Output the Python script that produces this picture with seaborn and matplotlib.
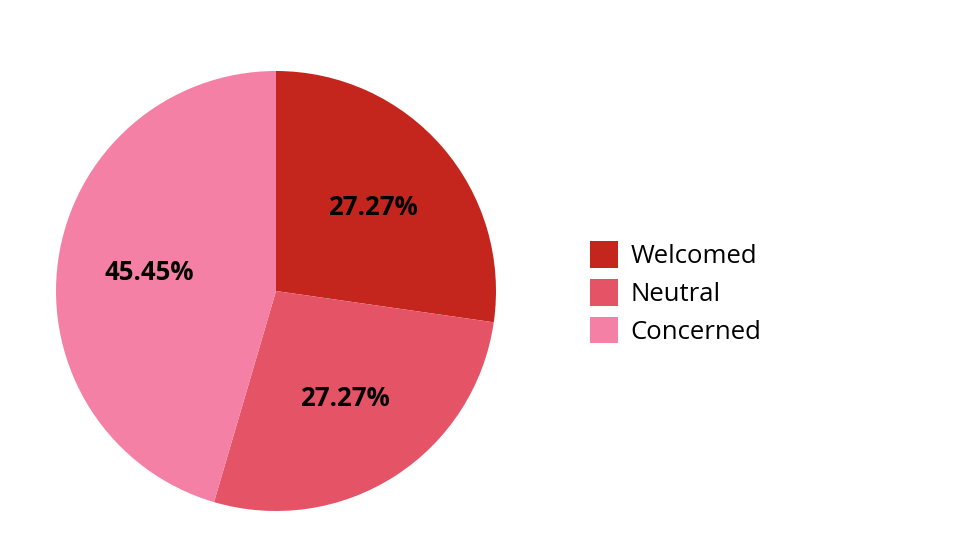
import matplotlib
matplotlib.use("Agg")
import seaborn as sns
import matplotlib.pyplot as plt
from matplotlib import font_manager as fm
from matplotlib.patches import Patch

# datos del gráfico
categorias = ["Welcomed", "Neutral", "Concerned"]
porcentajes = [27.27, 27.27, 45.45]
colores = ["#C4261D", "#E45366", "#F480A6"]

sns.set_style("white")
plt.rcParams['font.family'] = ['Open Sans', 'DejaVu Sans']

# buscamos el archivo de Open Sans Bold (no el condensado)
ruta_bold = [f.fname for f in fm.fontManager.ttflist if f.fname.endswith('OpenSans-Bold.ttf')]
fuente_bold = fm.FontProperties(fname=ruta_bold[0], size=18.5) if ruta_bold else fm.FontProperties(family='Open Sans', weight='bold', size=18.5)

fig = plt.figure(figsize=(9.8, 5.51), dpi=100)
ax = fig.add_axes([56 / 980, 40 / 551, 440 / 980, 440 / 551])

wedges, textos, autotextos = ax.pie(
    porcentajes,
    colors=sns.color_palette(colores),
    startangle=90,
    counterclock=False,
    autopct='%1.2f%%',
    pctdistance=0.58,
    radius=1,
    wedgeprops={'linewidth': 0},
)
for t in autotextos:
    t.set_fontproperties(fuente_bold)
    t.set_color('black')
ax.set_xlim(-1, 1)
ax.set_ylim(-1, 1)
ax.set_aspect('equal')
ax.axis('off')

# leyenda a la derecha
handles = [Patch(facecolor=c, edgecolor='none') for c in colores]
leg = fig.legend(
    handles, categorias,
    loc='center left',
    bbox_to_anchor=(590 / 980, 1 - 293 / 551),
    frameon=False,
    fontsize=18.5,
    handlelength=1.1,
    handleheight=1.22,
    handletextpad=0.47,
    labelspacing=0.38,
    borderpad=0,
    borderaxespad=0,
)
for t in leg.get_texts():
    t.set_color('black')

fig.savefig("out.png", dpi=100)
